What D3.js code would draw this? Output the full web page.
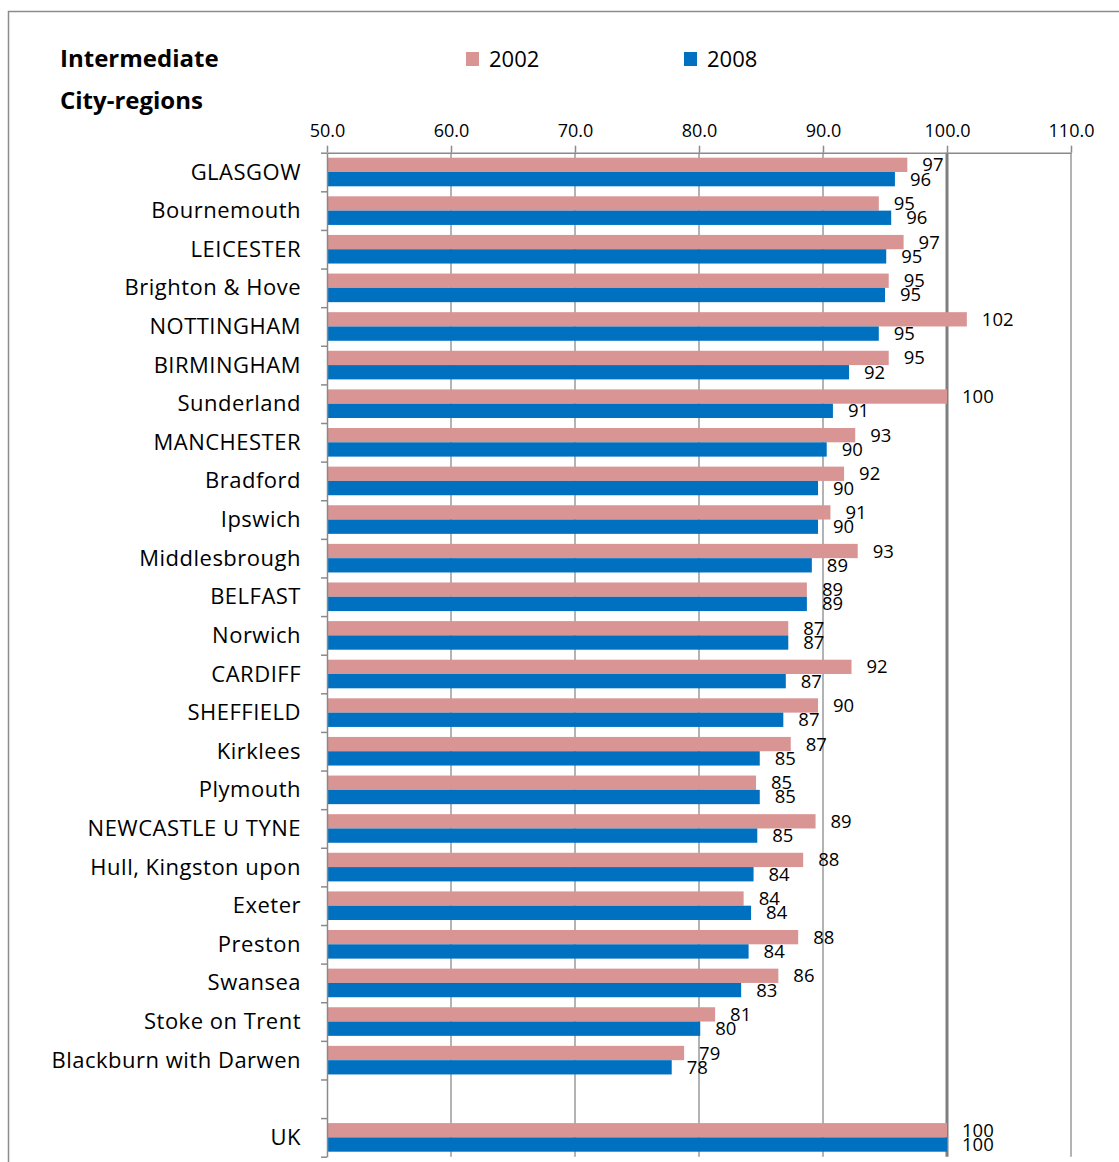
<!DOCTYPE html>
<html>
<head>
<meta charset="utf-8">
<script src="https://cdn.jsdelivr.net/npm/d3@7"></script>
<style>
  body { margin: 0; background: #fff; }
  svg text { font-family: "Open Sans", Lato, sans-serif; fill: #000; }
</style>
</head>
<body>
<svg id="chart" width="1119" height="1162"></svg>
<script>
// data
var cities = ["GLASGOW", "Bournemouth", "LEICESTER", "Brighton & Hove", "NOTTINGHAM", "BIRMINGHAM",
  "Sunderland", "MANCHESTER", "Bradford", "Ipswich", "Middlesbrough", "BELFAST", "Norwich", "CARDIFF",
  "SHEFFIELD", "Kirklees", "Plymouth", "NEWCASTLE U TYNE", "Hull, Kingston upon", "Exeter", "Preston",
  "Swansea", "Stoke on Trent", "Blackburn with Darwen", " ", "UK"];
var v2002 = [96.8, 94.5, 96.5, 95.3, 101.6, 95.3, 100.0, 92.6, 91.7, 90.6, 92.8, 88.7, 87.2, 92.3,
  89.6, 87.4, 84.6, 89.4, 88.4, 83.6, 88.0, 86.4, 81.3, 78.8, null, 100.0];
var v2008 = [95.8, 95.5, 95.1, 95.0, 94.5, 92.1, 90.8, 90.3, 89.6, 89.6, 89.1, 88.7, 87.2, 87.0,
  86.8, 84.9, 84.9, 84.7, 84.4, 84.2, 84.0, 83.4, 80.1, 77.8, null, 100.0];
var years = ["2002", "2008"];
var xTicks = [50, 60, 70, 80, 90, 100, 110];
var colors = {"2002": "#D99594", "2008": "#0070C0"};

var svg = d3.select("#chart");

// outer frame
svg.append("rect")
    .attr("x", 8.5).attr("y", 11.5)
    .attr("width", 1300).attr("height", 1300)
    .attr("fill", "none")
    .attr("stroke", "#8c8c8c")
    .attr("stroke-width", 1.5);

var x = d3.scaleLinear().domain([50, 110]).range([327, 1071]);
var y = d3.scaleBand().domain(cities).range([152.7, 1156.7]);
var ySub = d3.scaleBand().domain(years).range([0, y.bandwidth()]).paddingOuter(0.35);

var rows = cities.map(function(c, i) {
  return {city: c, vals: [{year: "2002", v: v2002[i]}, {year: "2008", v: v2008[i]}]};
});

// gridlines
svg.append("g").selectAll("line")
    .data(xTicks.slice(1))
    .enter().append("line")
    .attr("x1", function(d) { return x(d); })
    .attr("x2", function(d) { return x(d); })
    .attr("y1", 152.7).attr("y2", 1156.7)
    .attr("stroke", function(d) { return d === 100 ? "#7f7f7f" : "#8a8a8a"; })
    .attr("stroke-width", function(d) { return d === 100 ? 3 : 1.3; });

// bars
var groups = svg.append("g").selectAll("g")
    .data(rows)
    .enter().append("g")
    .attr("transform", function(d) { return "translate(0," + y(d.city) + ")"; });

groups.selectAll("rect")
    .data(function(d) { return d.vals.filter(function(e) { return e.v != null; }); })
    .enter().append("rect")
    .attr("x", x(50))
    .attr("y", function(d) { return ySub(d.year); })
    .attr("width", function(d) { return x(d.v) - x(50); })
    .attr("height", ySub.bandwidth())
    .attr("fill", function(d) { return colors[d.year]; });

groups.selectAll("text")
    .data(function(d) { return d.vals.filter(function(e) { return e.v != null; }); })
    .enter().append("text")
    .attr("x", function(d) { return x(d.v) + 15; })
    .attr("y", function(d) { return ySub(d.year) + ySub.bandwidth() / 2 + 6.5; })
    .attr("font-size", "18.5px")
    .text(function(d) { return Math.round(d.v); });

// top axis
var gX = svg.append("g")
    .attr("transform", "translate(0,152.7)")
    .call(d3.axisTop(x).tickValues(xTicks).tickSize(7).tickSizeOuter(0).tickFormat(d3.format(".1f")));
gX.select(".domain").attr("stroke", "#8a8a8a").attr("stroke-width", 1.5);
gX.selectAll(".tick line").attr("stroke", "#8a8a8a").attr("stroke-width", 1.5);
gX.selectAll(".tick text")
    .attr("font-size", "18px")
    .attr("font-family", "'Open Sans', Lato, sans-serif")
    .attr("dy", "-6px");

// left axis with ticks at band edges
var idx = d3.scaleLinear().domain([0, cities.length]).range([152.7, 1156.7]);
var gY = svg.append("g")
    .attr("transform", "translate(327,0)")
    .call(d3.axisLeft(idx).tickValues(d3.range(cities.length + 1)).tickSize(6).tickSizeOuter(0).tickFormat(""));
gY.select(".domain").attr("stroke", "#8a8a8a").attr("stroke-width", 1.5);
gY.selectAll(".tick line").attr("stroke", "#8a8a8a").attr("stroke-width", 1.5);

// category labels
svg.append("g").selectAll("text")
    .data(cities)
    .enter().append("text")
    .attr("x", 301)
    .attr("y", function(d) { return y(d) + y.bandwidth() / 2 + 7.5; })
    .attr("text-anchor", "end")
    .attr("font-size", "22px")
    .attr("letter-spacing", "0.5px")
    .text(function(d) { return d; });

// heading
svg.append("text").attr("x", 60).attr("y", 67)
    .attr("font-size", "24px").attr("font-weight", "bold").text("Intermediate");
svg.append("text").attr("x", 60).attr("y", 109)
    .attr("font-size", "24px").attr("font-weight", "bold").text("City-regions");

// legend
var legend = svg.append("g").selectAll("g")
    .data(years)
    .enter().append("g")
    .attr("transform", function(d, i) { return "translate(" + (466 + i * 218) + ",52)"; });
legend.append("rect")
    .attr("width", 13).attr("height", 14)
    .attr("fill", function(d) { return colors[d]; });
legend.append("text")
    .attr("x", 23).attr("y", 15)
    .attr("font-size", "22px")
    .text(function(d) { return d; });
</script>
</body>
</html>
